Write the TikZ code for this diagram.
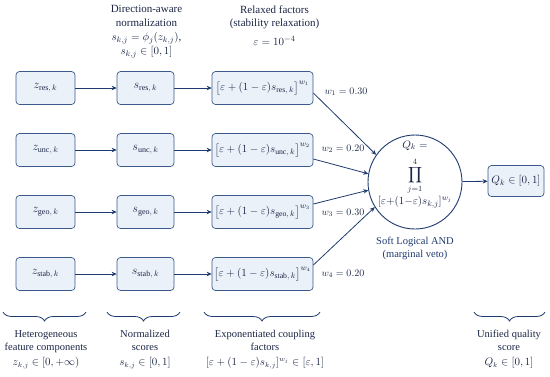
\documentclass[tikz,border=0pt]{standalone}
\usepackage{amsmath}
\usepackage{fontspec}
\setmainfont{Liberation Serif}
\usetikzlibrary{arrows.meta, positioning, calc, decorations.pathreplacing}
\definecolor{boxfill}{HTML}{EAF1F9}
\definecolor{boxline}{HTML}{3B5A8C}
\definecolor{flow}{HTML}{1F3A6E}
\definecolor{ink}{HTML}{1B2645}
\tikzset{
  stage/.style={draw=boxline, fill=boxfill, rounded corners=3.5pt,
    line width=0.7pt, minimum height=33pt, inner sep=2pt,
    font=\fontsize{12}{14}\selectfont},
  flowarrow/.style={-{Stealth[length=5pt,width=4.5pt]}, flow, line width=0.8pt},
  caption/.style={align=center, font=\fontsize{10.5}{13}\selectfont},
  weight/.style={anchor=west, font=\fontsize{10}{12}\selectfont},
  andpart/.style={inner sep=0pt, font=\fontsize{11}{13}\selectfont},
  underbrace/.style={decorate, decoration={brace, mirror, amplitude=9pt},
    flow, line width=0.8pt},
}
\newcommand{\relaxed}[2]{%
  $\bigl[\varepsilon+(1-\varepsilon)s_{\mathrm{#1},\,k}\bigr]^{w_{#2}}$}

\begin{document}
\begin{tikzpicture}[x=1pt, y=-1pt, text=ink]
  \useasboundingbox (0,0) rectangle (550,376);

  % headers
  \node[caption, anchor=north, font=\fontsize{11}{13.5}\selectfont] (hnorm) at (146.5,2)
    {Direction-aware\\normalization\\[1pt]$s_{k,j}=\phi_j(z_{k,j})$,\\$s_{k,j}\in[0,1]$};
  \node[caption, anchor=north, font=\fontsize{11}{13.5}\selectfont] (hrelax) at (274.5,2)
    {Relaxed factors\\(stability relaxation)\\[5pt]$\varepsilon=10^{-4}$};

  % soft AND and output
  \node[circle, draw=flow, line width=0.9pt, minimum size=94pt, inner sep=0pt]
    (soft) at (415,182) {};
  \node[andpart, anchor=base] (andq) at (415,148) {$Q_k=$};
  \node[andpart] (andprod) at (415,176) {$\displaystyle\prod_{j=1}^{4}$};
  \node[andpart] (andterm) at (415,202)
    {$[\varepsilon{+}(1{-}\varepsilon)s_{k,j}]^{w_j}$};
  \node[caption, text=flow, anchor=north] (softcap) at (415,234)
    {Soft Logical AND\\(marginal veto)};
  \node[stage, minimum width=56pt, minimum height=31pt,
    font=\fontsize{11}{13}\selectfont] (qout) at (516,181) {$Q_k\in[0,1]$};
  \draw[flowarrow] (soft) -- (qout);

  % four feature rows
  \foreach \n/\y/\i/\w/\dy/\wx/\wy/\ang in {res/88/1/0.30/-5/321/92/145,
      unc/150/2/0.20/-9/318/149/170, geo/212/3/0.30/8/318/213/190,
      stab/274/4/0.20/9/318/274/212} {
    \node[stage, minimum width=59pt] (z\n) at (45.5,\y) {$z_{\mathrm{\n},\,k}$};
    \node[stage, minimum width=57pt] (s\n) at (145.5,\y) {$s_{\mathrm{\n},\,k}$};
    \node[stage, minimum width=101pt, font=\fontsize{11}{13}\selectfont]
      (f\n) at (262.5,\y) {\relaxed{\n}{\i}};
    \node[weight] (w\n) at (\wx,\wy) {$w_{\i}=\w$};
    \draw[flowarrow] (z\n) -- (s\n);
    \draw[flowarrow] (s\n) -- (f\n);
    \draw[flowarrow] ([yshift=\dy pt]f\n.east) -- (soft.\ang);
  }

  % braces and bottom captions
  \draw[underbrace] (3,312) -- (86,312);
  \draw[underbrace] (107,312) -- (180,312);
  \draw[underbrace] (204,312) -- (320,312);
  \draw[underbrace] (474,312) -- (545,312);
  \node[caption, anchor=north] (cz) at (46,327)
    {Heterogeneous\\feature components\\[2pt]$z_{k,j}\in[0,+\infty)$};
  \node[caption, anchor=north] (cs) at (145,327)
    {Normalized\\scores\\[2pt]$s_{k,j}\in[0,1]$};
  \node[caption, anchor=north] (cf) at (265,327)
    {Exponentiated coupling\\factors\\[2pt]$[\varepsilon+(1-\varepsilon)s_{k,j}]^{w_j}\in[\varepsilon,1]$};
  \node[caption, anchor=north] (cq) at (509,327)
    {Unified quality\\score\\[2pt]$Q_k\in[0,1]$};
\end{tikzpicture}
\end{document}
